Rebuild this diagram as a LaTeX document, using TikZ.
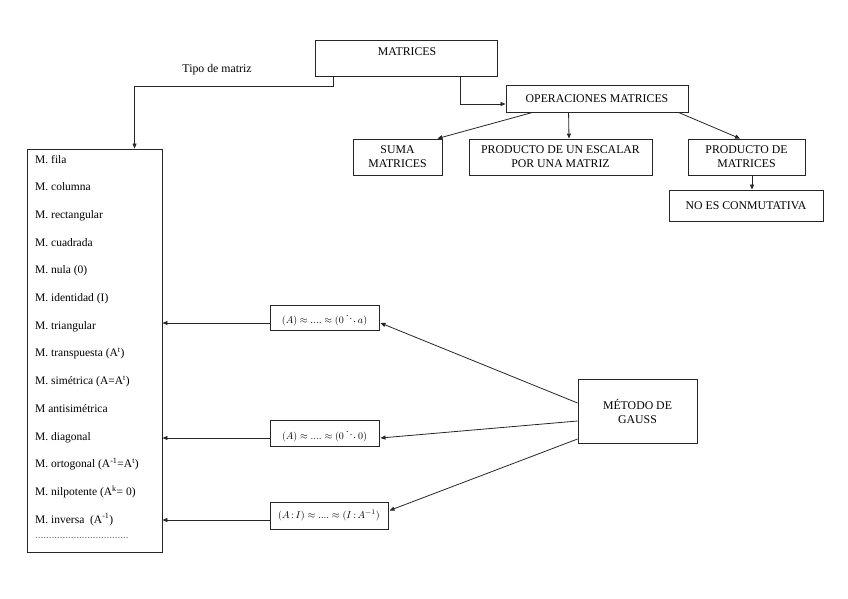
\documentclass[tikz,border=0pt]{standalone}
\usepackage{fontspec}
\setmainfont{Liberation Serif}
\usetikzlibrary{arrows.meta}
\begin{document}
\begin{tikzpicture}[x=1pt,y=-1pt,
  box/.style={draw=black!85,line width=0.9pt,rectangle,inner sep=0pt,align=center,font=\fontsize{11.8}{14}\selectfont},
  fbox/.style={box,font=\fontsize{10}{12}\selectfont},
  txt/.style={inner sep=0pt,font=\fontsize{11.8}{14}\selectfont},
  item/.style={inner sep=0pt,anchor=base west,font=\fontsize{11.5}{14}\selectfont},
  arr/.style={draw=black!85,line width=0.8pt,-{Triangle[length=5pt,width=4pt]}}]
\useasboundingbox (0,0) rectangle (848,599);
% top part
\node[box,minimum width=182pt,minimum height=36pt] (matrices) at (406,58) {};
\node[txt] (matricesT) at (407,52) {MATRICES};
\node[txt] (tipo) at (217,70) {Tipo de matriz};
\node[box,minimum width=182pt,minimum height=27pt] (oper) at (597,98.5) {OPERACIONES MATRICES};
\node[box,minimum width=89pt,minimum height=36pt] (suma) at (397.5,157) {SUMA\\MATRICES};
\node[box,minimum width=183pt,minimum height=36pt] (escalar) at (560.5,157) {PRODUCTO DE UN ESCALAR\\POR UNA MATRIZ};
\node[box,minimum width=117pt,minimum height=36pt] (prodmat) at (746.5,157) {PRODUCTO DE\\MATRICES};
\node[box,minimum width=154pt,minimum height=31pt] (noes) at (746,205.5) {NO ES CONMUTATIVA};
% list box
\node[box,minimum width=135pt,minimum height=403pt] (list) at (94.5,350.5) {};
\node[item] (i1) at (35,163) {M. fila};
\node[item] (i2) at (35,190.7) {M. columna};
\node[item] (i3) at (35,218.4) {M. rectangular};
\node[item] (i4) at (35,246.1) {M. cuadrada};
\node[item] (i5) at (35,273.8) {M. nula (0)};
\node[item] (i6) at (35,301.5) {M. identidad (I)};
\node[item] (i7) at (35,329.2) {M. triangular};
\node[item] (i8) at (35,356.9) {M. transpuesta (A\textsuperscript{t})};
\node[item] (i9) at (35,384.6) {M. simétrica (A=A\textsuperscript{t})};
\node[item] (i10) at (35,412.3) {M antisimétrica};
\node[item] (i11) at (35,440) {M. diagonal};
\node[item] (i12) at (35,467.7) {M. ortogonal (A\textsuperscript{-1}=A\textsuperscript{t})};
\node[item] (i13) at (35,495.4) {M. nilpotente (A\textsuperscript{k}= 0)};
\node[item] (i14) at (35,523.1) {M. inversa\ \ (A\textsuperscript{-1})};
\node[item,font=\fontsize{11}{12}\selectfont,text=black!55] (i15) at (35,538) {..................................};
% formula boxes
\node[fbox,minimum width=109pt,minimum height=25pt] (f1) at (324.5,317.5) {$(A)\approx{....}\approx(0\ddots a)$};
\node[fbox,minimum width=109pt,minimum height=26pt] (f2) at (324.5,433) {$(A)\approx{....}\approx(0\ddots 0)$};
\node[fbox,minimum width=118pt,minimum height=27pt] (f3) at (329,515.5) {$(A\,{:}\,I)\approx{....}\approx(I\,{:}\,A^{-1})$};
\node[box,minimum width=119pt,minimum height=64pt] (gauss) at (637.5,411) {MÉTODO DE\\GAUSS};
% connectors
\draw[arr] ([xshift=19pt]matrices.south west) -- ++(0,10) -| ([xshift=108pt]list.north west);
\draw[arr] ([xshift=146pt]matrices.south west) |- ([yshift=-5.5pt]oper.west);
\draw[arr] ([xshift=27pt]oper.south west) -- ([xshift=-5pt]suma.north east);
\draw[arr] ([xshift=63pt]oper.south west) -- ([xshift=8.5pt]escalar.north);
\draw[arr] ([xshift=-10pt]oper.south east) -- ([xshift=-6.5pt]prodmat.north);
\draw[arr] ([xshift=5.5pt]prodmat.south) -- ([xshift=5.5pt]prodmat.south |- noes.north);
\draw[arr] ([yshift=8pt]gauss.west) -- ([xshift=1pt,yshift=-5.5pt]f1.east);
\draw[arr] ([yshift=-10pt]gauss.west) -- ([xshift=1pt,yshift=-5pt]f2.east);
\draw[arr] ([yshift=-28pt]gauss.west) -- ([xshift=1pt,yshift=5pt]f3.east);
\draw[arr] ([yshift=-5.5pt]f1.west) -- ([yshift=-5.5pt]f1.west -| list.east);
\draw[arr] ([yshift=-5pt]f2.west) -- ([yshift=-5pt]f2.west -| list.east);
\draw[arr] ([yshift=-4.5pt]f3.west) -- ([yshift=-4.5pt]f3.west -| list.east);
\end{tikzpicture}
\end{document}
